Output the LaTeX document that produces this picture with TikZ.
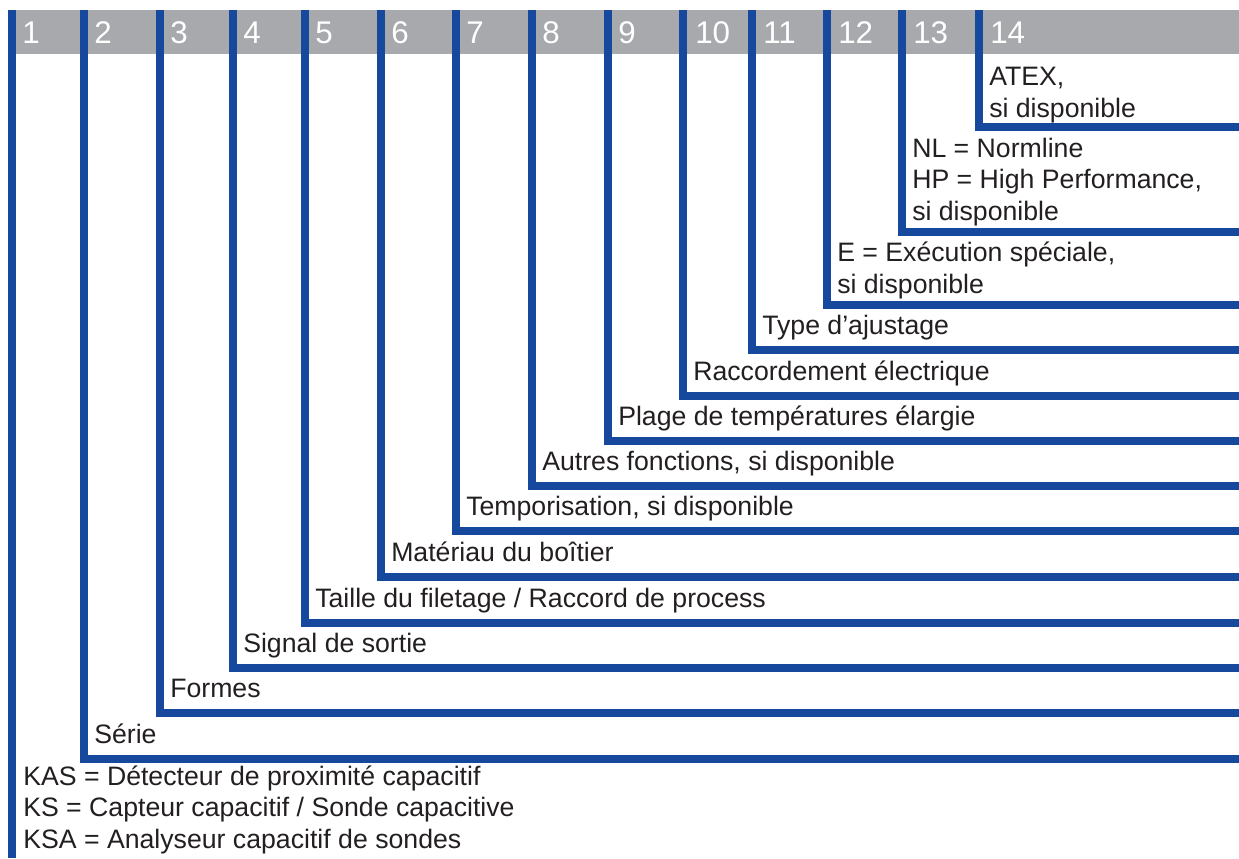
\documentclass[tikz,border=0pt]{standalone}
\usepackage{fontspec}
\setmainfont{Liberation Sans}
\usepackage{xcolor}
\definecolor{lineblue}{RGB}{22,72,158}
\definecolor{headgray}{RGB}{167,169,172}
\definecolor{textdark}{RGB}{35,31,32}

\begin{document}
\begin{tikzpicture}[x=0.75pt,y=0.75pt,yscale=-1,xscale=1,
  bline/.style={draw=lineblue,line width=6pt},
  numtxt/.style={anchor=base west,inner sep=0pt,text=white,font=\fontsize{23.5}{28}\selectfont},
  lbltxt/.style={anchor=base west,inner sep=0pt,text=textdark,align=left,font=\fontsize{20}{23.5}\selectfont}]

\useasboundingbox (0,0) rectangle (1239,858);

% header bar
\fill [headgray] (8,10) rectangle (1239,54);

% column tops and line ends
\coordinate (top1) at (12,10);   \coordinate (end1) at (12,858);
\coordinate (top2) at (84,10);   \coordinate (end2) at (1239,759);
\coordinate (top3) at (160,10);  \coordinate (end3) at (1239,713);
\coordinate (top4) at (233,10);  \coordinate (end4) at (1239,668);
\coordinate (top5) at (305,10);  \coordinate (end5) at (1239,623);
\coordinate (top6) at (381,10);  \coordinate (end6) at (1239,577);
\coordinate (top7) at (456,10);  \coordinate (end7) at (1239,531);
\coordinate (top8) at (532,10);  \coordinate (end8) at (1239,486);
\coordinate (top9) at (608,10);  \coordinate (end9) at (1239,441);
\coordinate (top10) at (683,10); \coordinate (end10) at (1239,396);
\coordinate (top11) at (752,10); \coordinate (end11) at (1239,350);
\coordinate (top12) at (827,10); \coordinate (end12) at (1239,305);
\coordinate (top13) at (902,10); \coordinate (end13) at (1239,232);
\coordinate (top14) at (979,10); \coordinate (end14) at (1239,127);

% blue brackets
\draw [bline] (top1) -- (end1);
\draw [bline] (top2) |- (end2);
\draw [bline] (top3) |- (end3);
\draw [bline] (top4) |- (end4);
\draw [bline] (top5) |- (end5);
\draw [bline] (top6) |- (end6);
\draw [bline] (top7) |- (end7);
\draw [bline] (top8) |- (end8);
\draw [bline] (top9) |- (end9);
\draw [bline] (top10) |- (end10);
\draw [bline] (top11) |- (end11);
\draw [bline] (top12) |- (end12);
\draw [bline] (top13) |- (end13);
\draw [bline] (top14) |- (end14);

% position numbers
\node (num1) [numtxt] at (22,43.5) {1};
\node (num2) [numtxt] at (94,43.5) {2};
\node (num3) [numtxt] at (170,43.5) {3};
\node (num4) [numtxt] at (243,43.5) {4};
\node (num5) [numtxt] at (315,43.5) {5};
\node (num6) [numtxt] at (391,43.5) {6};
\node (num7) [numtxt] at (466,43.5) {7};
\node (num8) [numtxt] at (542,43.5) {8};
\node (num9) [numtxt] at (618,43.5) {9};
\node (num10) [numtxt] at (695,43.5) {10};
\node (num11) [numtxt] at (763,43.5) {11};
\node (num12) [numtxt] at (838,43.5) {12};
\node (num13) [numtxt] at (913,43.5) {13};
\node (num14) [numtxt] at (990,43.5) {14};

% labels (base = last line)
\node (lbl14) [lbltxt] at (989,117) {ATEX,\\si disponible};
\node (lbl13) [lbltxt] at (912,220) {NL = Normline\\HP = High Performance,\\si disponible};
\node (lbl12) [lbltxt] at (837,293) {E = Exécution spéciale,\\si disponible};
\node (lbl11) [lbltxt] at (762,334) {Type d’ajustage};
\node (lbl10) [lbltxt] at (693,380) {Raccordement électrique};
\node (lbl9) [lbltxt] at (618,425) {Plage de températures élargie};
\node (lbl8) [lbltxt] at (542,470) {Autres fonctions, si disponible};
\node (lbl7) [lbltxt] at (466,515) {Temporisation, si disponible};
\node (lbl6) [lbltxt] at (391,561) {Matériau du boîtier};
\node (lbl5) [lbltxt] at (315,607) {Taille du filetage / Raccord de process};
\node (lbl4) [lbltxt] at (243,652) {Signal de sortie};
\node (lbl3) [lbltxt] at (170,697) {Formes};
\node (lbl2) [lbltxt] at (94,743) {Série};
\node (lbl1) [lbltxt] at (23,848) {KAS = Détecteur de proximité capacitif\\KS = Capteur capacitif / Sonde capacitive\\KSA = Analyseur capacitif de sondes};

\end{tikzpicture}
\end{document}
